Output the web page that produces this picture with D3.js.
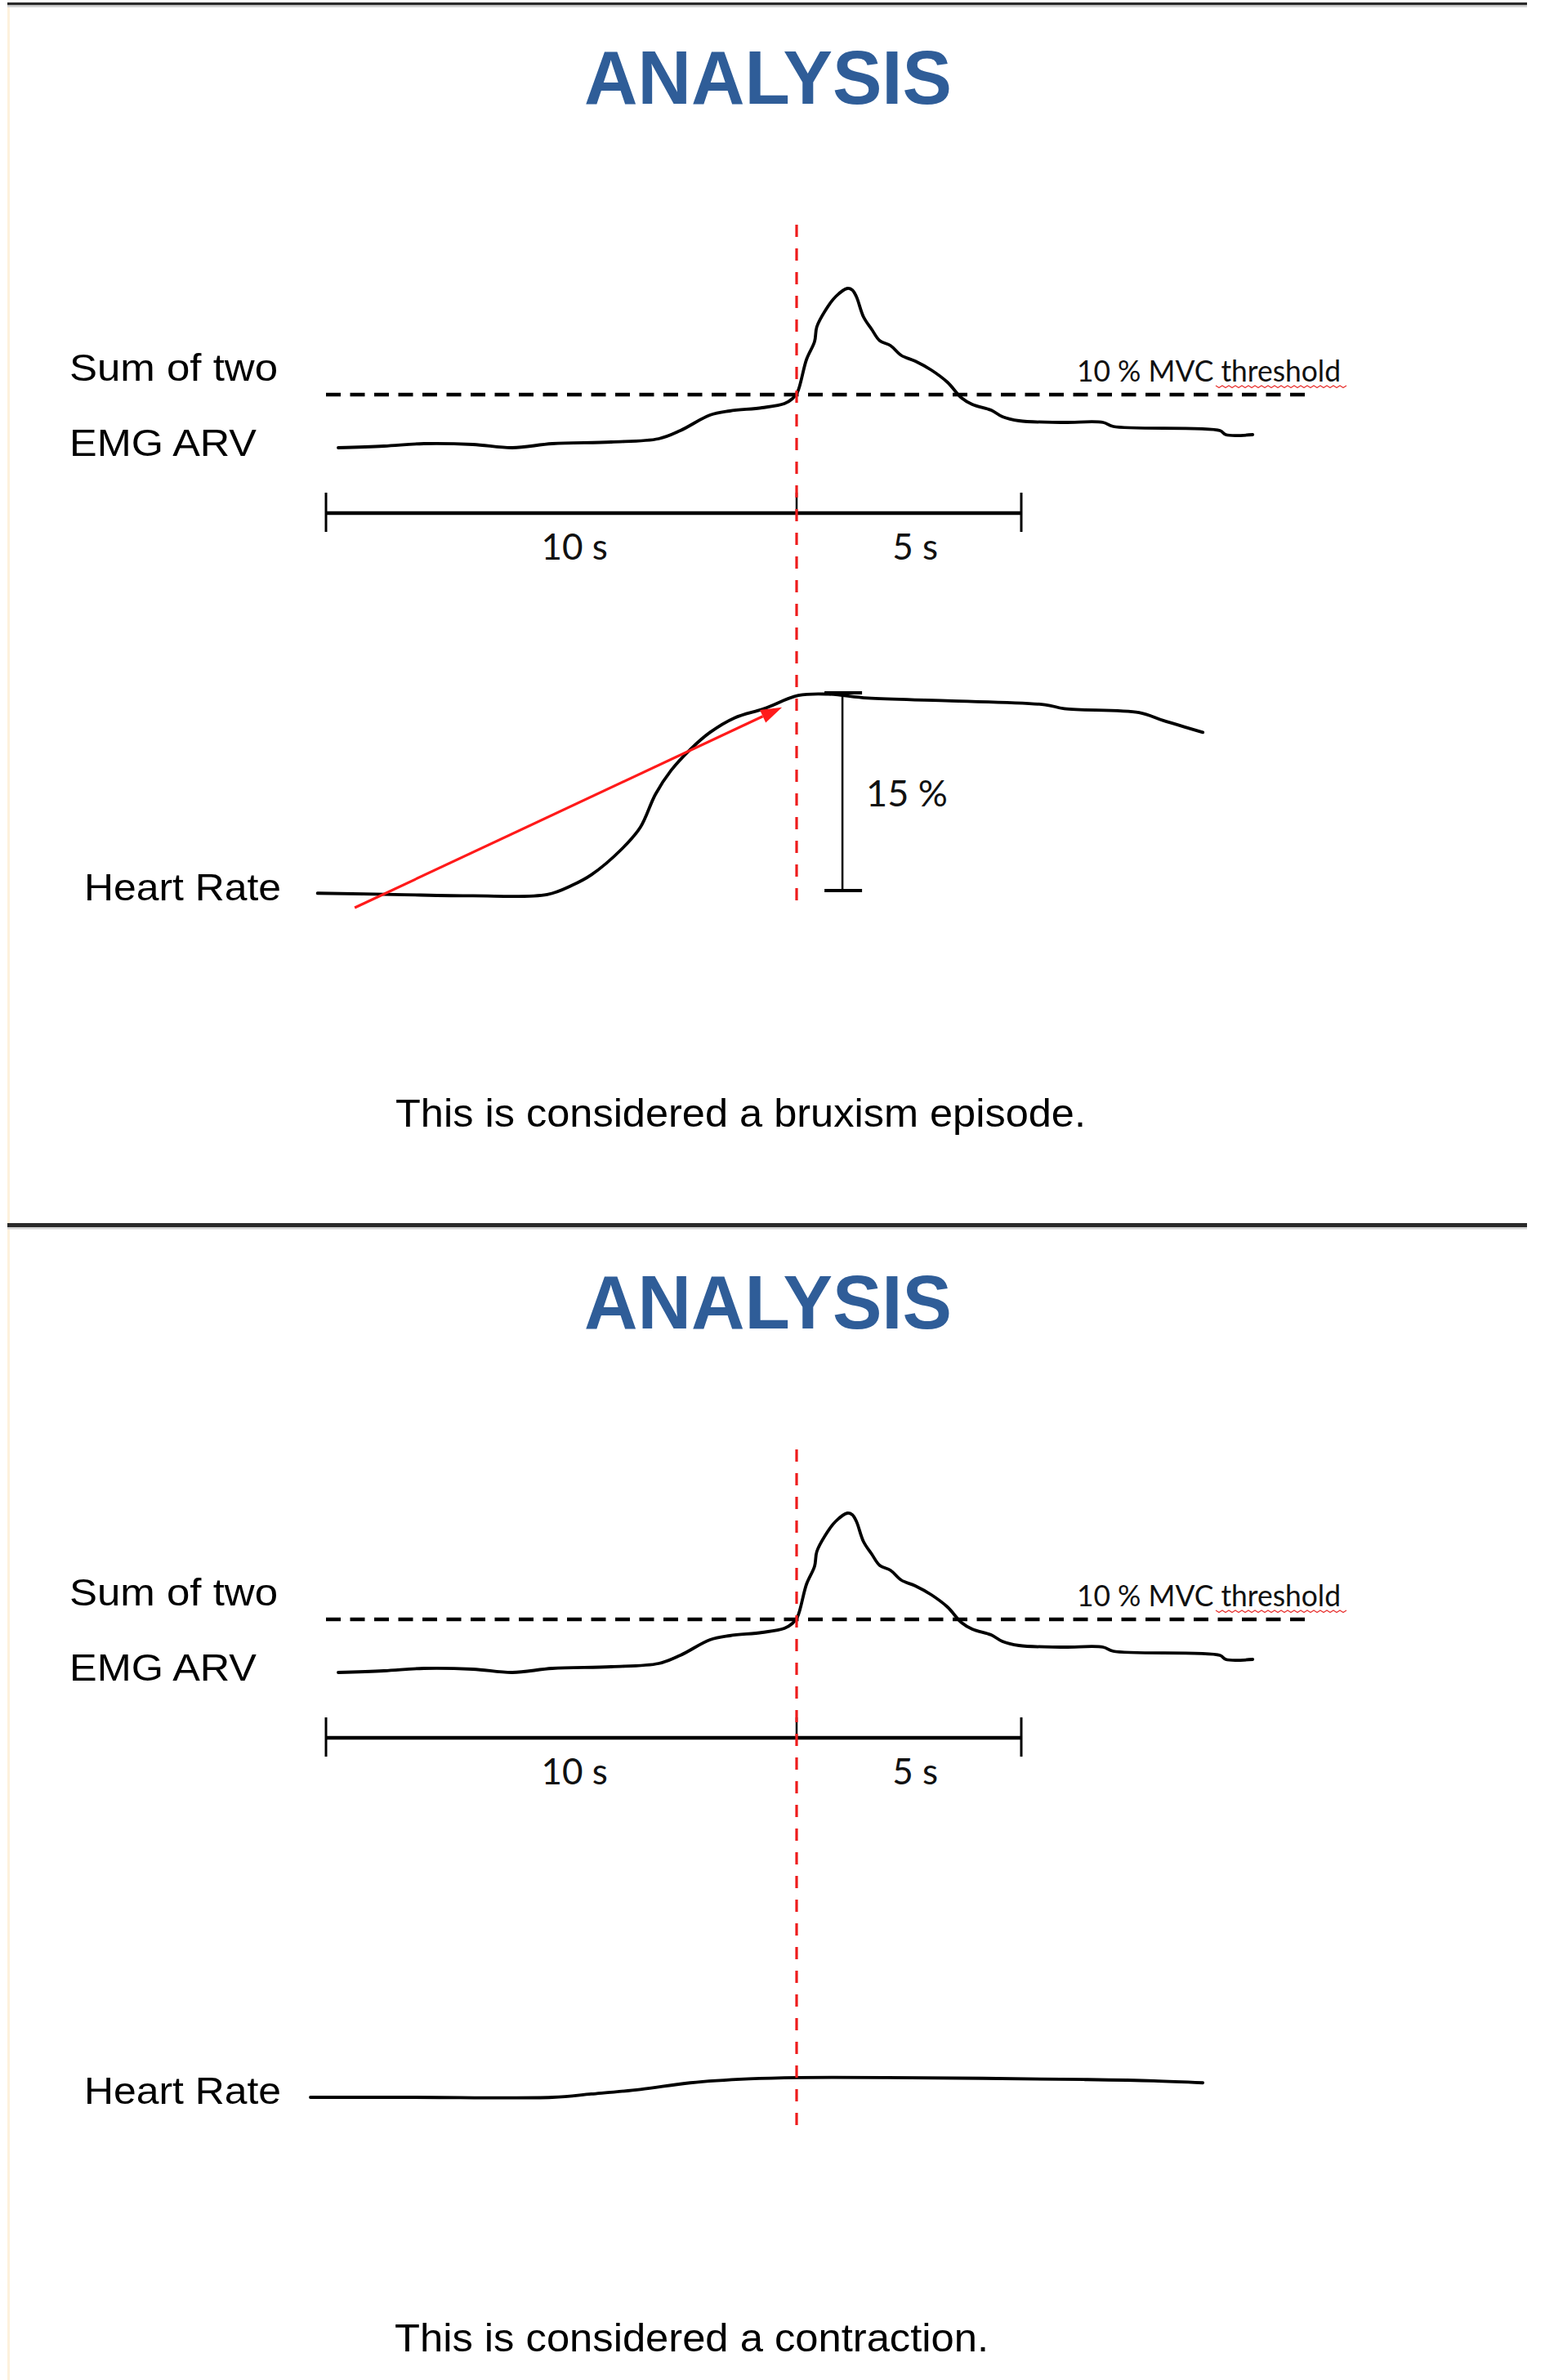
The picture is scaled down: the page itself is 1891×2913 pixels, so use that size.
<!DOCTYPE html>
<html>
<head>
<meta charset="utf-8">
<script src="https://cdn.jsdelivr.net/npm/d3@7"></script>
<style>
  html, body { margin: 0; padding: 0; background: #ffffff; }
  svg { display: block; }
</style>
</head>
<body>
<svg id="chart" width="1891" height="2913"></svg>
<script>
// ---------------- DATA ----------------
// Sum of two EMG ARV (in % MVC), time in seconds relative to onset (red line)
const emgTime  = [-9.74,-8.77,-7.92,-6.88,-6.04,-5.19,-3.94,-2.93,-2.47,-1.84,-1.42,-0.73,-0.26,-0.09,0.02,0.22,0.40,0.45,0.64,0.87,1.13,1.24,1.33,1.49,1.67,1.85,2.09,2.33,2.64,3.00,3.36,3.67,3.91,4.33,4.58,4.95,5.91,6.82,7.05,9.42,9.55,10.15];
const emgValue = [3.5,3.7,4.0,3.9,3.5,4.0,4.2,4.6,5.6,7.5,8.0,8.4,8.9,9.5,10.3,14.3,16.5,18.3,20.3,22.0,23.0,22.8,22.0,19.5,18.0,16.6,16.0,14.8,14.1,13.0,11.5,9.6,8.8,8.1,7.3,6.8,6.6,6.6,6.1,5.6,5.1,5.1];
const thresholdValue = 10;             // 10 % MVC
const thresholdSpan = [-10, 11.36];    // seconds

// Heart rate change (%) — panel 1 (bruxism episode)
const hr1Time  = [-10.18,-8.54,-6.88,-5.30,-4.77,-4.36,-3.73,-3.32,-3.00,-2.67,-2.26,-1.84,-1.32,-0.69,0.04,0.71,1.58,3.33,5.53,5.96,7.62,8.16,9.04];
const hr1Value = [-0.2,-0.3,-0.4,-0.3,0.4,1.2,3.1,4.8,7.3,9.1,10.7,12.0,13.1,13.8,14.8,14.9,14.6,14.4,14.1,13.8,13.5,12.9,12.0];
// Heart rate change (%) — panel 2 (contraction)
const hr2Time  = [-10.33,-8.13,-5.19,-4.36,-3.32,-2.26,-1.01,0.04,2.02,6.40,7.95,9.04];
const hr2Value = [0,0,0,0.25,0.6,1.1,1.4,1.5,1.5,1.35,1.25,1.1];

const hrRiseLabel = "15 %";
const hrRiseRange = [0, 15];           // % change marked by bracket
const hrRiseTime = 1.02;               // s
const arrowFrom = {t: -9.39, v: -1.3};
const arrowTo   = {t: -0.31, v: 13.9};

const timeDomain = [-10, 0, 5];
const timeTickLabels = ["10 s", "5 s"];
const timeTickLabelPos = [-4.72, 2.64]; // s, label centres
const panelTitles = ["ANALYSIS", "ANALYSIS"];
const captions = ["This is considered a bruxism episode.", "This is considered a contraction."];
const emgLabelLines = ["Sum of two", "EMG ARV"];
const hrLabel = "Heart Rate";
const thresholdLabel = "10 % MVC threshold";

// ---------------- LAYOUT ----------------
const svg = d3.select("#chart");
const x = d3.scaleLinear().domain(timeDomain).range([399, 975, 1250]);

// page frame
svg.append("line").attr("x1", 10.5).attr("x2", 10.5).attr("y1", 8).attr("y2", 2913)
  .attr("stroke", "#fdf1dc").attr("stroke-width", 3);

function separator(y, h) {
  svg.append("rect").attr("x", 9).attr("y", y).attr("width", 1860).attr("height", h).attr("fill", "#2a2a2a");
  svg.append("rect").attr("x", 9).attr("y", y + h).attr("width", 1860).attr("height", 2.5).attr("fill", "#d4d4d4");
}
separator(3, 3.5);
separator(1497, 5);

const panels = [
  {oy: 0,    hrZero: 1090, hrLabelY: 1102, hrT: hr1Time, hrV: hr1Value, rise: true,  capLen: 845, capX: 484},
  {oy: 1499, hrZero: 2567, hrLabelY: 2575, hrT: hr2Time, hrV: hr2Value, rise: false, capLen: 727, capX: 483}
];

panels.forEach((p, i) => {
  const g = svg.append("g");
  const oy = p.oy;
  const yE = d3.scaleLinear().domain([0, 25]).range([583 + oy, 333 + oy]);
  const yH = d3.scaleLinear().domain([0, 15]).range([p.hrZero, p.hrZero - 242]);

  // title
  g.append("text").attr("x", 940).attr("y", 127 + oy).attr("text-anchor", "middle")
    .attr("font-family", "Liberation Sans, Arial, sans-serif").attr("font-weight", "bold")
    .attr("font-size", 92).attr("fill", "#2f5d98")
    .attr("textLength", 450).attr("lengthAdjust", "spacingAndGlyphs")
    .text(panelTitles[i]);

  // EMG labels
  g.append("text").attr("x", 85).attr("y", 466 + oy)
    .attr("font-family", "Liberation Sans, Arial, sans-serif").attr("font-size", 47).attr("fill", "#000")
    .attr("textLength", 255).attr("lengthAdjust", "spacingAndGlyphs").text(emgLabelLines[0]);
  g.append("text").attr("x", 85).attr("y", 558 + oy)
    .attr("font-family", "Liberation Sans, Arial, sans-serif").attr("font-size", 47).attr("fill", "#000")
    .attr("textLength", 229).attr("lengthAdjust", "spacingAndGlyphs").text(emgLabelLines[1]);

  // threshold dashed line
  g.append("line")
    .attr("x1", x(thresholdSpan[0])).attr("x2", x(thresholdSpan[1]))
    .attr("y1", yE(thresholdValue)).attr("y2", yE(thresholdValue))
    .attr("stroke", "#000").attr("stroke-width", 4.5).attr("stroke-dasharray", "18 11.5");

  // threshold label
  g.append("text").attr("x", 1318).attr("y", 467 + oy)
    .attr("font-family", "Lato, 'Open Sans', sans-serif").attr("font-size", 36).attr("fill", "#111")
    .attr("textLength", 323).attr("lengthAdjust", "spacingAndGlyphs").text(thresholdLabel);
  // spell-check squiggle under "threshold"
  let sq = "M1488," + (472 + oy);
  for (let k = 1; k <= 40; k++) sq += " L" + (1488 + k * 4) + "," + (472 + oy + (k % 2 ? 2.5 : 0));
  g.append("path").attr("d", sq).attr("fill", "none").attr("stroke", "#e8302e").attr("stroke-width", 1.3);

  // EMG curve
  const emgData = emgTime.map((t, k) => ({t, v: emgValue[k]}));
  g.append("path").datum(emgData)
    .attr("d", d3.line().x(d => x(d.t)).y(d => yE(d.v)).curve(d3.curveCatmullRom.alpha(0.5)))
    .attr("fill", "none").attr("stroke", "#000").attr("stroke-width", 3.8)
    .attr("stroke-linejoin", "round").attr("stroke-linecap", "round");

  // time scale bar
  const barY = 628 + oy;
  g.append("line").attr("x1", x(-10)).attr("x2", x(5)).attr("y1", barY).attr("y2", barY)
    .attr("stroke", "#000").attr("stroke-width", 4.5);
  [-10, 5].forEach(t => {
    g.append("line").attr("x1", x(t)).attr("x2", x(t)).attr("y1", 603 + oy).attr("y2", 651 + oy)
      .attr("stroke", "#000").attr("stroke-width", 3);
  });
  g.append("line").attr("x1", x(0)).attr("x2", x(0)).attr("y1", 603 + oy).attr("y2", barY)
    .attr("stroke", "#000").attr("stroke-width", 2.5);
  timeTickLabels.forEach((lab, k) => {
    g.append("text").attr("x", x(timeTickLabelPos[k])).attr("y", 685 + oy).attr("text-anchor", "middle")
      .attr("font-family", "Lato, 'Open Sans', sans-serif").attr("font-size", 44).attr("fill", "#111")
      .text(lab);
  });

  // Heart rate label & curve
  g.append("text").attr("x", 103).attr("y", p.hrLabelY)
    .attr("font-family", "Liberation Sans, Arial, sans-serif").attr("font-size", 47).attr("fill", "#000")
    .attr("textLength", 241).attr("lengthAdjust", "spacingAndGlyphs").text(hrLabel);
  const hrData = p.hrT.map((t, k) => ({t, v: p.hrV[k]}));
  g.append("path").datum(hrData)
    .attr("d", d3.line().x(d => x(d.t)).y(d => yH(d.v)).curve(d3.curveCatmullRom.alpha(0.5)))
    .attr("fill", "none").attr("stroke", "#000").attr("stroke-width", 3.8)
    .attr("stroke-linejoin", "round").attr("stroke-linecap", "round");

  if (p.rise) {
    // 15 % bracket
    const bx = x(hrRiseTime);
    g.append("line").attr("x1", bx).attr("x2", bx).attr("y1", yH(hrRiseRange[1])).attr("y2", yH(hrRiseRange[0]))
      .attr("stroke", "#000").attr("stroke-width", 2.5);
    hrRiseRange.forEach(v => {
      g.append("line").attr("x1", bx - 22).attr("x2", bx + 24).attr("y1", yH(v)).attr("y2", yH(v))
        .attr("stroke", "#000").attr("stroke-width", 4);
    });
    g.append("text").attr("x", 1060).attr("y", 987 + oy)
      .attr("font-family", "Lato, 'Open Sans', sans-serif").attr("font-size", 44).attr("fill", "#111")
      .attr("textLength", 100).attr("lengthAdjust", "spacingAndGlyphs").text(hrRiseLabel);

    // red arrow
    const x1 = x(arrowFrom.t), y1 = yH(arrowFrom.v), x2 = x(arrowTo.t), y2 = yH(arrowTo.v);
    const L = Math.hypot(x2 - x1, y2 - y1), ux = (x2 - x1) / L, uy = (y2 - y1) / L;
    const hl = 26, hw = 8.5;
    const bxp = x2 - ux * hl, byp = y2 - uy * hl;
    g.append("line").attr("x1", x1).attr("y1", y1).attr("x2", bxp).attr("y2", byp)
      .attr("stroke", "#ff1a1a").attr("stroke-width", 3.2);
    g.append("path")
      .attr("d", `M${x2},${y2} L${bxp - uy * hw},${byp + ux * hw} L${bxp + uy * hw},${byp - ux * hw} Z`)
      .attr("fill", "#ff1a1a");
  }

  // red onset line
  g.append("line").attr("x1", x(0)).attr("x2", x(0)).attr("y1", 275 + oy).attr("y2", 1111 + oy)
    .attr("stroke", "#ee1c1c").attr("stroke-width", 3.2).attr("stroke-dasharray", "15 14");

  // caption
  g.append("text").attr("x", p.capX).attr("y", 1379 + oy)
    .attr("font-family", "Liberation Sans, Arial, sans-serif").attr("font-size", 48).attr("fill", "#000")
    .attr("textLength", p.capLen).attr("lengthAdjust", "spacingAndGlyphs").text(captions[i]);
});
</script>
</body>
</html>
